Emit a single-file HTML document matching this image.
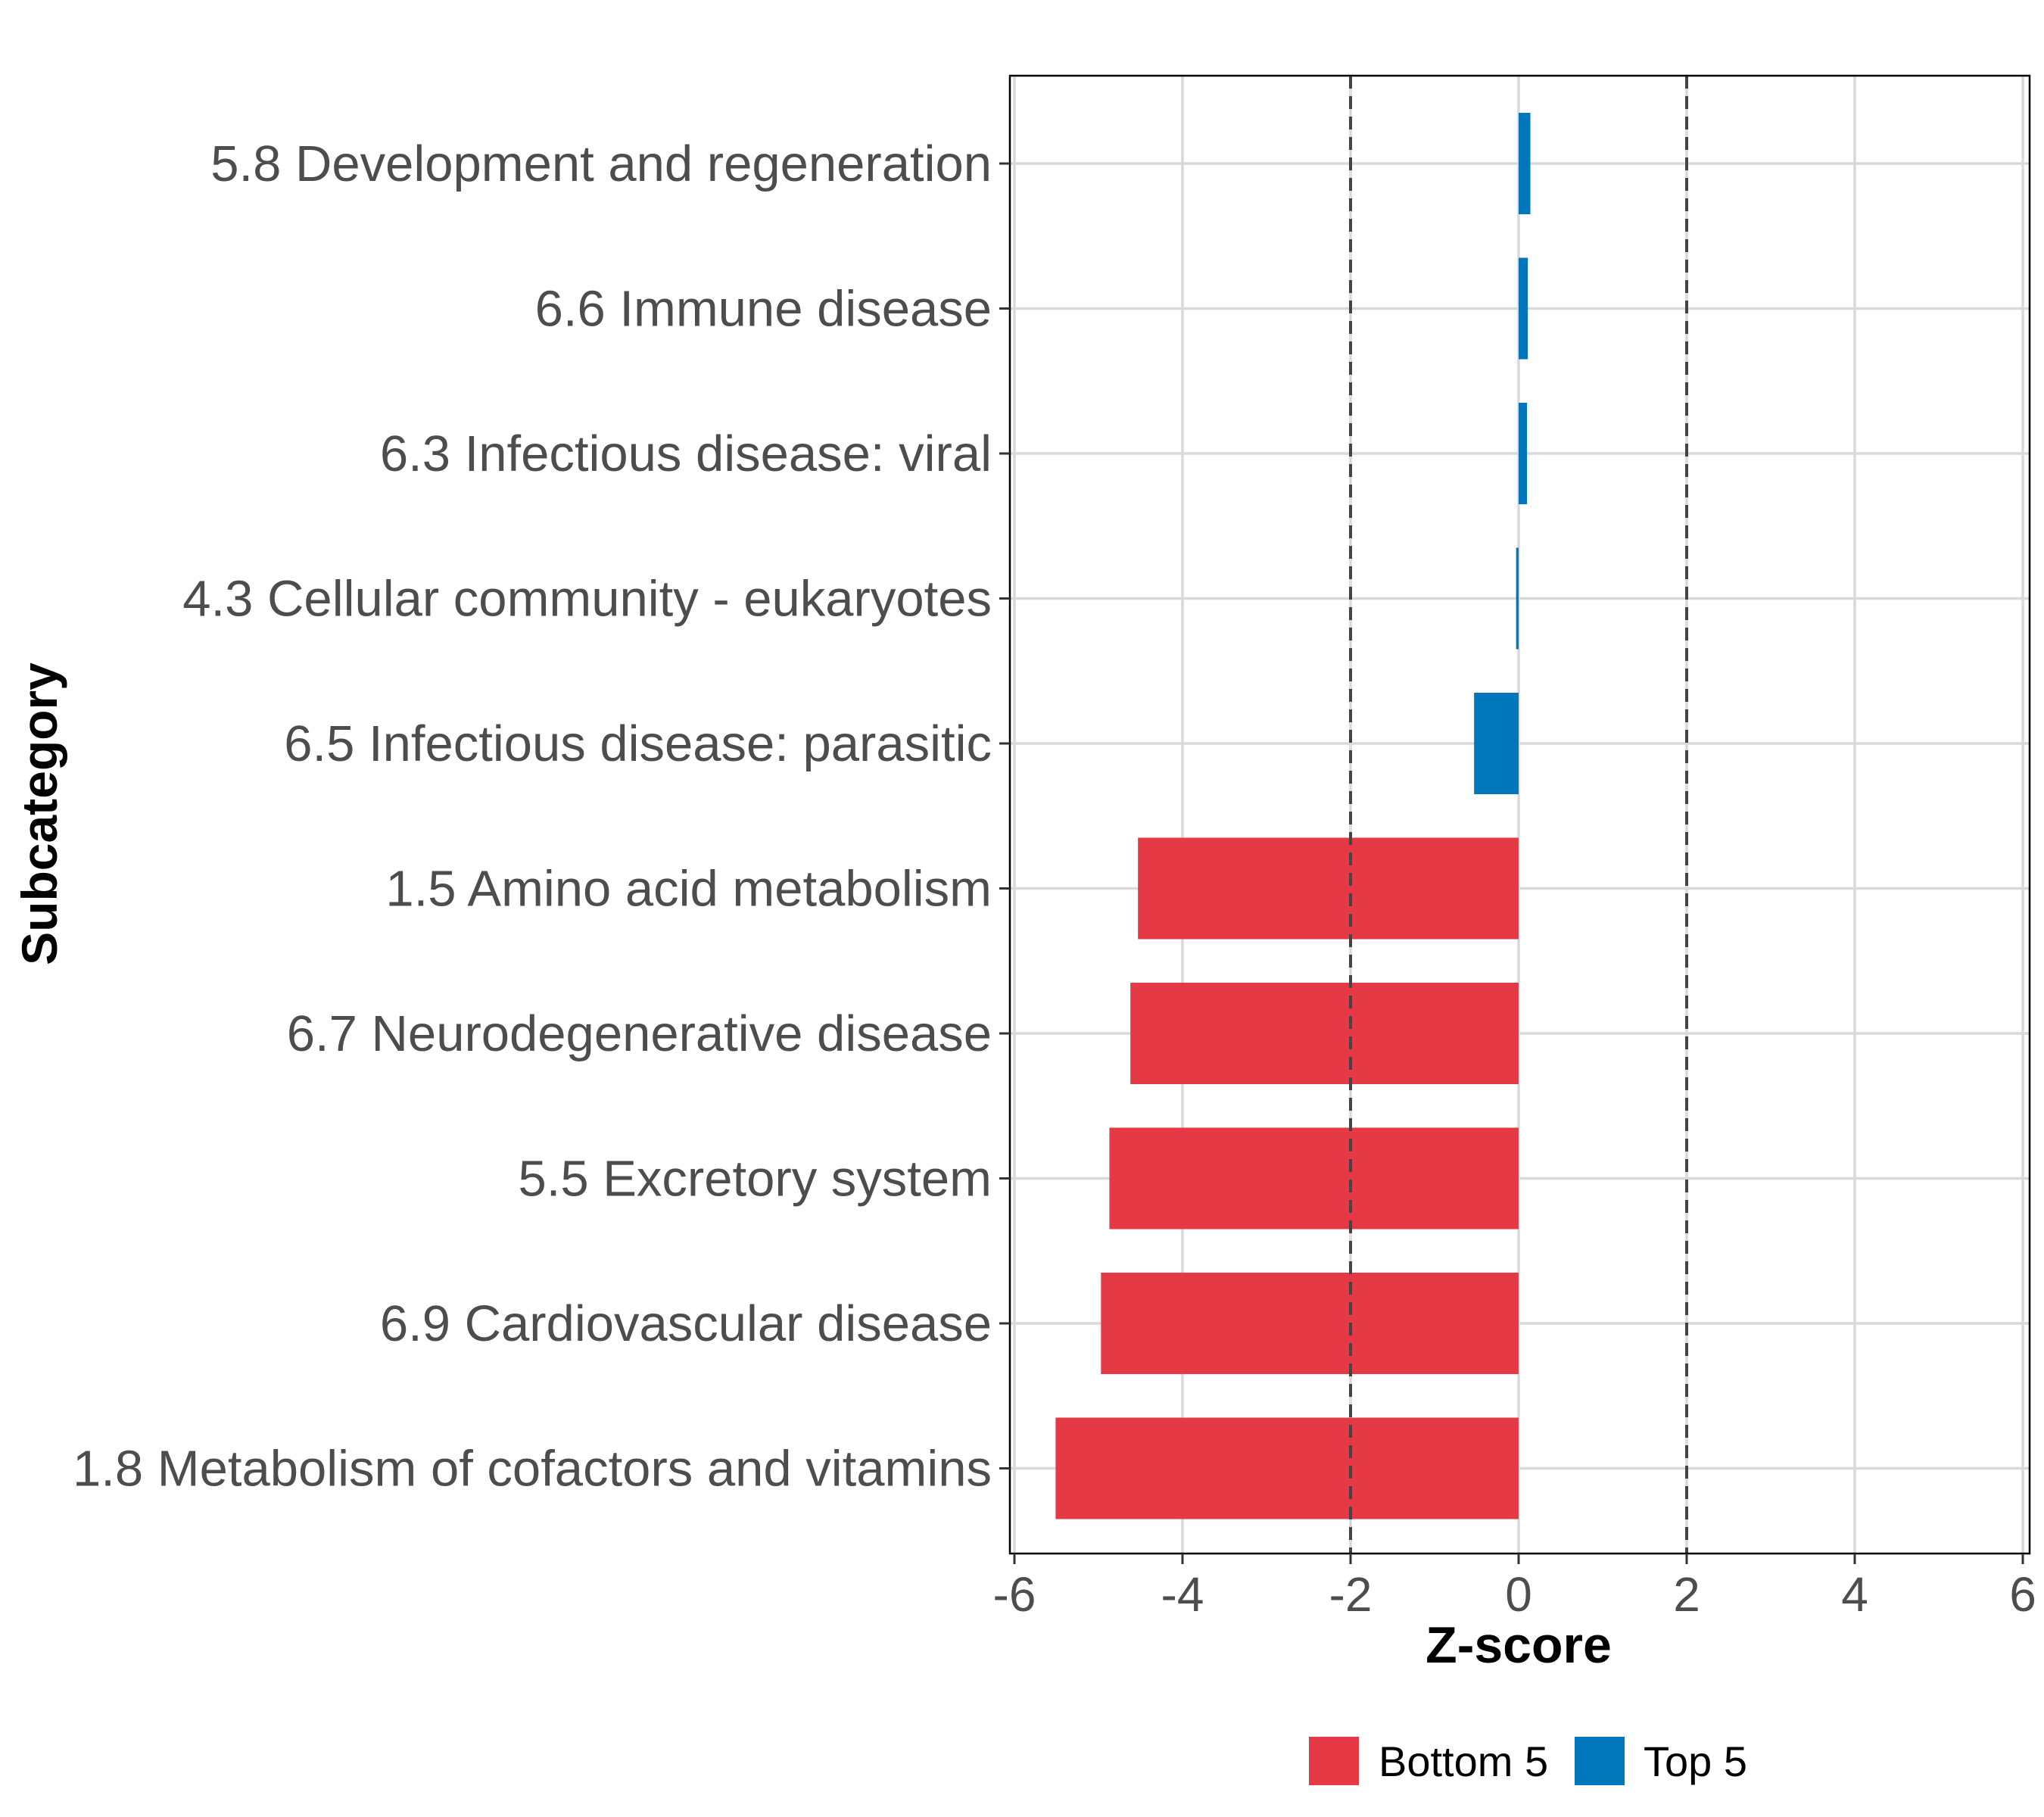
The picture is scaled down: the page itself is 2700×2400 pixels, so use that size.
<!DOCTYPE html>
<html><head><meta charset="utf-8"><style>
html,body{margin:0;padding:0;background:#fff;}
svg{display:block;font-family:"Liberation Sans",sans-serif;}
</style></head><body>
<svg id="chart" width="2700" height="2400" viewBox="0 0 2700 2400" xmlns="http://www.w3.org/2000/svg">
<g id="grid"></g>
<g id="bars"></g>
<g id="refs"></g>
<rect x="1334" y="100" width="1347" height="1952" fill="none" stroke="#000" stroke-width="2.5"/>
<g id="yaxis"></g>
<g id="xaxis"></g>
<text x="2006" y="2196" text-anchor="middle" font-size="68" font-weight="bold" fill="#000">Z-score</text>
<text transform="translate(75,1075) rotate(-90)" text-anchor="middle" font-size="66" font-weight="bold" fill="#000">Subcategory</text>
<g>
<rect x="1729" y="2294" width="66" height="64" fill="#E63946"/>
<text x="1821" y="2346" font-size="56" fill="#000">Bottom 5</text>
<rect x="2080" y="2294" width="66" height="64" fill="#0077BB"/>
<text x="2171" y="2346" font-size="56" fill="#000">Top 5</text>
</g>
</svg>
<script>
const categories=["5.8 Development and regeneration","6.6 Immune disease","6.3 Infectious disease: viral","4.3 Cellular community - eukaryotes","6.5 Infectious disease: parasitic","1.5 Amino acid metabolism","6.7 Neurodegenerative disease","5.5 Excretory system","6.9 Cardiovascular disease","1.8 Metabolism of cofactors and vitamins"];
const values=[0.14,0.11,0.10,-0.03,-0.53,-4.53,-4.62,-4.87,-4.97,-5.51];
const groups=["Top 5","Top 5","Top 5","Top 5","Top 5","Bottom 5","Bottom 5","Bottom 5","Bottom 5","Bottom 5"];
const xTicks=[-6,-4,-2,0,2,4,6];
const xTickLabels=["-6","-4","-2","0","2","4","6"];
const refValues=[-2,2];

const NS="http://www.w3.org/2000/svg";
const L=1334,R=2681,T=100,B=2052;
const x=v=>2006+v*111;
const step=191.5, y=i=>216+i*step, bh=134;
function mk(tag,attrs,parent){const e=document.createElementNS(NS,tag);for(const k in attrs)e.setAttribute(k,attrs[k]);parent.appendChild(e);return e;}
const grid=document.getElementById('grid'),bars=document.getElementById('bars'),refs=document.getElementById('refs'),ya=document.getElementById('yaxis'),xa=document.getElementById('xaxis');
xTicks.forEach((t,i)=>{
  const g=mk('line',{x1:x(t),x2:x(t),y1:T,y2:B,stroke:'#d9d9d9','stroke-width':3.5},grid);
  
  
  const tk=mk('line',{x1:x(t),x2:x(t),y1:B,y2:B+14,stroke:'#333','stroke-width':3},xa);
  
  
  const lb=mk('text',{x:x(t),y:B+76,'text-anchor':'middle','font-size':64,fill:'#4d4d4d'},xa);
  lb.textContent=xTickLabels[i];
  
  
});
categories.forEach((c,i)=>{
  const g=mk('line',{x1:L,x2:R,y1:y(i),y2:y(i),stroke:'#d9d9d9','stroke-width':3.5},grid);
  
  
  const v=values[i];
  const b=mk('rect',{x:Math.min(x(0),x(v)),y:y(i)-bh/2,width:Math.max(2,Math.abs(x(v)-x(0))),height:bh,fill:groups[i]==='Top 5'?'#0077BB':'#E63946'},bars);
  
  
  const tk=mk('line',{x1:L-14,x2:L,y1:y(i),y2:y(i),stroke:'#333','stroke-width':3},ya);
  
  
  const lb=mk('text',{x:L-24,y:y(i)+23,'text-anchor':'end','font-size':67,fill:'#4d4d4d'},ya);
  lb.textContent=c;
  
  
});
refValues.forEach(r=>{
  const l=mk('line',{x1:x(r),x2:x(r),y1:T,y2:B,stroke:'#444','stroke-width':4,'stroke-dasharray':'17,10'},refs);
  
  
});
</script>
</body></html>
